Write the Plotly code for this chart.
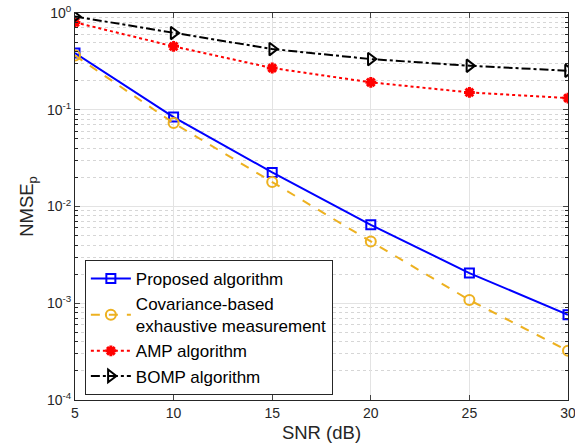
import plotly.graph_objects as go

snr = [5, 10, 15, 20, 25, 30]
proposed = [0.386, 0.084, 0.0225, 0.00647, 0.00205, 0.00076]
covariance = [0.364, 0.0728, 0.0179, 0.00435, 0.00108, 0.000322]
amp = [0.80, 0.452, 0.27, 0.192, 0.151, 0.132]
bomp = [0.92, 0.621, 0.424, 0.334, 0.285, 0.253]

y_tickvals = [1e-4, 1e-3, 1e-2, 1e-1, 1e0]
y_ticktext = ["10<sup>-4</sup>", "10<sup>-3</sup>", "10<sup>-2</sup>", "10<sup>-1</sup>", "10<sup>0</sup>"]
x_tickvals = [5, 10, 15, 20, 25, 30]

minor_vals = [m * 10.0 ** e for e in range(-4, 0) for m in range(2, 10)]

fig = go.Figure()
fig.add_trace(go.Scatter(
    x=snr, y=proposed, name="Proposed algorithm", mode="lines+markers",
    line=dict(color="#0000FF", width=2),
    marker=dict(symbol="square-open", size=9, color="#0000FF", line=dict(width=2))))
fig.add_trace(go.Scatter(
    x=snr, y=covariance, name="Covariance-based<br>exhaustive measurement", mode="lines+markers",
    line=dict(color="#EDB120", width=2, dash="dash"),
    marker=dict(symbol="circle-open", size=10, color="#EDB120", line=dict(width=2))))
fig.add_trace(go.Scatter(
    x=snr, y=amp, name="AMP algorithm", mode="lines+markers",
    line=dict(color="#FF0000", width=2, dash="dot"),
    marker=dict(symbol="asterisk-open", size=9, color="#FF0000", line=dict(width=3, color="#FF0000"))))
fig.add_trace(go.Scatter(
    x=snr, y=bomp, name="BOMP algorithm", mode="lines+markers",
    line=dict(color="#000000", width=2, dash="dashdot"),
    marker=dict(symbol="triangle-right-open", size=11, color="#000000", line=dict(width=2))))

fig.update_layout(
    width=575, height=447,
    margin=dict(l=75, r=7, t=13, b=47),
    paper_bgcolor="white", plot_bgcolor="white",
    font=dict(family="Liberation Sans, Arial, sans-serif", color="#262626", size=14),
    showlegend=True,
    legend=dict(
        x=0.02, y=0.013, xanchor="left", yanchor="bottom",
        bgcolor="white", bordercolor="#262626", borderwidth=1,
        font=dict(size=17, color="#000000"),
        tracegroupgap=0, itemwidth=40,
    ),
)
fig.update_xaxes(
    range=[5, 30], tickvals=x_tickvals, ticks="inside", ticklen=5, automargin=False,
    ticklabeloverflow="allow",
    showline=True, linecolor="#262626", linewidth=1, mirror="ticks",
    showgrid=True, gridcolor="#E3E3E3", gridwidth=1, zeroline=False,
    title=dict(text="SNR (dB)", font=dict(size=18.5), standoff=6),
    tickfont=dict(size=14),
)
fig.update_yaxes(
    type="log", range=[-4, 0], tickvals=y_tickvals, ticktext=y_ticktext,
    ticks="inside", ticklen=5, automargin=False, ticklabeloverflow="allow",
    showline=True, linecolor="#262626", linewidth=1, mirror="ticks",
    showgrid=True, gridcolor="#E3E3E3", gridwidth=1, zeroline=False,
    minor=dict(tickvals=minor_vals, ticks="inside", ticklen=3, showgrid=True,
               gridcolor="#D6D6D6", griddash="dot", tickcolor="#262626"),
    title=dict(text="NMSE<sub>p</sub>", font=dict(size=18.5), standoff=8),
    tickfont=dict(size=14),
)

fig.write_html("out.html", config={"displayModeBar": False},
               post_script="document.body.style.margin='0px';")
